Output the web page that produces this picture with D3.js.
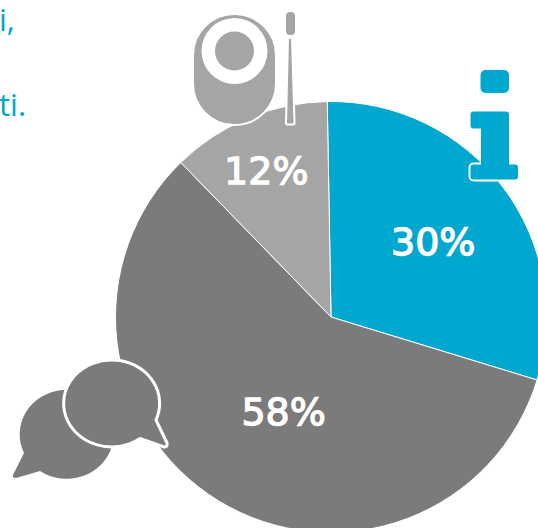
<!DOCTYPE html>
<html>
<head>
<meta charset="utf-8">
<script src="https://cdnjs.cloudflare.com/ajax/libs/d3/7.8.5/d3.min.js"></script>
<style>
html,body{margin:0;padding:0;background:#fff;overflow:hidden}
svg{display:block}
text{font-family:"Open Sans","Noto Sans",sans-serif}
</style>
</head>
<body>
<svg id="chart" width="538" height="528"></svg>
<script>
const categories = ["info", "speech", "camera"];
const shares = [30, 58, 12];
const sliceColors = ["#00a7ce", "#7b7b7b", "#a5a5a5"];
const captionLines = ["i,", "ti."];
const startDegrees = -1;

const svg = d3.select("#chart");
const radius = 215.5;
const pieGroup = svg.append("g").attr("transform", "translate(331,317)");

const pie = d3.pie().value(d => d).sort(null)
  .startAngle(startDegrees * Math.PI / 180)
  .endAngle((startDegrees + 360) * Math.PI / 180);
const arc = d3.arc().innerRadius(0).outerRadius(radius);
const labelArc = d3.arc().innerRadius(radius * 0.6).outerRadius(radius * 0.6);
const arcs = pie(shares);

pieGroup.selectAll("path.slice").data(arcs).join("path")
  .attr("class", "slice")
  .attr("d", arc)
  .attr("fill", (d, i) => sliceColors[i])
  .attr("stroke", "#fff")
  .attr("stroke-width", 1);

// Percent labels sit near each slice's centroid, nudged clear of the pictograms
const labelOffsets = [[-1, 3], [20, -15], [-15, -27]];
pieGroup.selectAll("text.pct").data(arcs).join("text")
  .attr("class", "pct")
  .attr("x", (d, i) => labelArc.centroid(d)[0] + labelOffsets[i][0])
  .attr("y", (d, i) => labelArc.centroid(d)[1] + labelOffsets[i][1])
  .attr("text-anchor", "middle")
  .attr("dominant-baseline", "central")
  .attr("fill", "#fff")
  .style("font-family", "'DejaVu Sans'")
  .attr("font-size", 38)
  .attr("stroke", "#fff")
  .attr("stroke-width", 1.3)
  .text(d => d.data + "%");

// Caption running off the left edge
svg.selectAll("text.caption").data(captionLines).join("text")
  .attr("class", "caption")
  .attr("x", -1)
  .attr("y", (d, i) => i === 0 ? 31 : 116)
  .attr("fill", "#00a7ce")
  .attr("font-size", 31)
  .text(d => d);

// Webcam pictogram
const cam = svg.append("g");
cam.append("path")
  .attr("d", "M193,55.5 A41.5,41.5 0 0 1 276,55.5 L276,83.5 A41.5,41.5 0 0 1 193,83.5 Z")
  .attr("fill", "#a5a5a5").attr("stroke", "#fff").attr("stroke-width", 2);
cam.append("circle").attr("cx", 234.5).attr("cy", 51).attr("r", 33).attr("fill", "#fff");
cam.append("circle").attr("cx", 234.5).attr("cy", 51).attr("r", 19.5).attr("fill", "#a5a5a5");
cam.append("path")
  .attr("d", "M286,123 L288,38 L292,38 L294.5,123 Q294.5,124.5 293,124.5 L287.5,124.5 Q286,124.5 286,123 Z")
  .attr("fill", "#a5a5a5").attr("stroke", "#fff").attr("stroke-width", 2);
cam.append("rect").attr("x", 286).attr("y", 12).attr("width", 9).attr("height", 23)
  .attr("rx", 4).attr("fill", "#a5a5a5");

// Information pictogram: outlined stem and base, then a clean stem on top to merge them
const stemPath = "M473.5,111.5 H506 Q509,111.5 509,114.5 V170 H481 V128.5 H473.5 Q470.5,128.5 470.5,125.5 V114.5 Q470.5,111.5 473.5,111.5 Z";
const info = svg.append("g").attr("fill", "#00a7ce");
info.append("rect").attr("x", 480.5).attr("y", 70).attr("width", 28.5).attr("height", 23).attr("rx", 5);
info.append("path").attr("d", stemPath).attr("stroke", "#fff").attr("stroke-width", 2);
info.append("rect").attr("x", 469.5).attr("y", 163.5).attr("width", 49.5).attr("height", 17).attr("rx", 4)
  .attr("stroke", "#fff").attr("stroke-width", 2);
info.append("path").attr("d", stemPath);

// Speech bubbles pictogram
const chat = svg.append("g");
chat.append("path")
  .attr("d", "M40,471 A47,44.5 0 1 0 24,453 L13,475 Q12,478 16,478 Z")
  .attr("fill", "#7b7b7b");
chat.append("path")
  .attr("d", "M156,420 A48,43.5 0 1 0 140,438.5 L164,447 Q168,447 167,443 Z")
  .attr("fill", "#7b7b7b").attr("stroke", "#fff").attr("stroke-width", 3).attr("stroke-linejoin", "round");
</script>
</body>
</html>
